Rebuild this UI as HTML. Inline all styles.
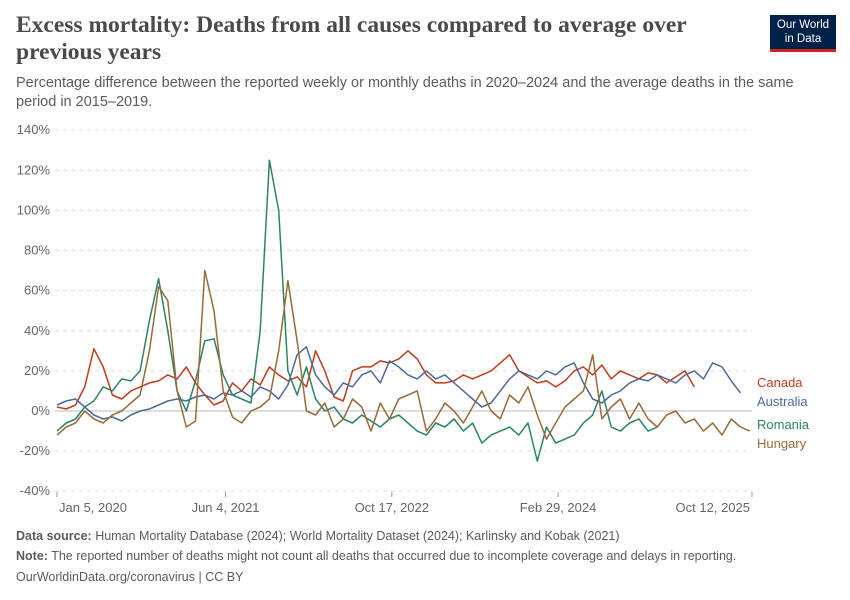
<!DOCTYPE html>
<html><head><meta charset="utf-8"><style>
body{margin:0;width:850px;height:600px;background:#fff;font-family:"Liberation Sans",sans-serif;overflow:hidden;position:relative}
.t{position:absolute;left:16px;top:12px;font-family:"Liberation Serif",serif;font-weight:bold;font-size:23.5px;line-height:27px;color:#4a4a4a;width:700px}
.s{position:absolute;left:16px;top:74px;font-size:14.5px;line-height:19px;color:#5b5b5b;width:800px}
.logo{position:absolute;left:770px;top:15px;width:66px;height:37px;background:#002147;color:#fff;font-size:11.5px;line-height:14px;text-align:center;padding-top:3px;box-sizing:border-box;border-bottom:3px solid #ce261e}
.f{position:absolute;left:16px;font-size:12.5px;color:#5b5b5b}
</style></head><body>
<div class="t">Excess mortality: Deaths from all causes compared to average over previous years</div>
<div class="s">Percentage difference between the reported weekly or monthly deaths in 2020–2024 and the average deaths in the same period in 2015–2019.</div>
<div class="logo">Our World<br>in Data</div>
<svg id="c" width="850" height="600" style="position:absolute;left:0;top:0"></svg>
<div class="f" style="top:529px"><b>Data source:</b> Human Mortality Database (2024); World Mortality Dataset (2024); Karlinsky and Kobak (2021)</div>
<div class="f" style="top:549px"><b>Note:</b> The reported number of deaths might not count all deaths that occurred due to incomplete coverage and delays in reporting.</div>
<div class="f" style="top:570px">OurWorldinData.org/coronavirus | CC BY</div>
<script>
const yTicks=[140,120,100,80,60,40,20,0,-20,-40];
const xTickWeeks=[0,73,145,217,301];
const xTickLabels=["Jan 5, 2020","Jun 4, 2021","Oct 17, 2022","Feb 29, 2024","Oct 12, 2025"];
const canada=[2,1,3,12,31,22,8,6,10,12,14,15,18,16,22,14,8,3,5,14,10,16,13,22,18,15,17,12,30,20,7,5,20,22,22,25,24,26,30,26,18,14,14,15,18,16,18,20,24,28,20,17,14,15,12,15,20,22,18,23,16,20,18,16,19,18,14,17,20,12];
const australia=[3,5,6,2,-2,-4,-3,-5,-2,0,1,3,5,6,5,7,8,6,9,8,10,7,12,10,6,13,28,32,18,12,8,14,12,18,20,14,25,22,18,16,20,16,18,14,10,6,2,4,10,16,20,18,16,20,18,22,24,14,6,4,8,10,14,16,15,18,16,14,18,20,16,24,22,15,9];
const romania=[-10,-6,-4,2,5,12,10,16,15,20,45,66,40,10,0,15,35,36,18,8,6,4,40,125,100,20,8,22,6,0,2,-4,-6,-2,-5,-8,-4,-2,-6,-10,-12,-6,-8,-4,-10,-6,-16,-12,-10,-8,-12,-6,-25,-8,-16,-14,-12,-6,-2,10,-8,-10,-6,-4,-10,-8];
const hungary=[-12,-8,-6,0,-4,-6,-2,0,4,8,30,62,55,10,-8,-5,70,50,10,-3,-6,0,2,6,30,65,35,0,-2,4,-8,-4,6,2,-10,4,-4,6,8,10,-10,-4,4,0,-6,2,10,0,-4,8,4,12,-2,-14,-6,2,6,10,28,-4,2,6,-4,4,-4,-8,-2,0,-6,-4,-10,-6,-12,-4,-8,-10];
const names=["Canada","Australia","Romania","Hungary"];
const colors=["#c13c1a","#4c6a9c","#2c8465","#9a6b3a"];
const labelY=[383,402,425,444];
const weekStep=4;
const svg=document.getElementById('c');const NS='http://www.w3.org/2000/svg';
const x=w=>57+w*(695/301);
const y=v=>411-v*(361/180);
function mk(t,a){const e=document.createElementNS(NS,t);for(const k in a)e.setAttribute(k,a[k]);svg.appendChild(e);return e;}
yTicks.forEach(v=>{
 const l=mk('line',{x1:55,x2:752,y1:y(v),y2:y(v),stroke:v===0?'#bbb':'#ddd','stroke-dasharray':v===0?'':'4,4','stroke-width':1});
 
 
 const t=mk('text',{x:50,y:y(v)+4,'text-anchor':'end','font-size':13,fill:'#666'});t.textContent=v+'%';
 
 
});
xTickWeeks.forEach((w,i)=>{
 const l=mk('line',{x1:x(w),x2:x(w),y1:492,y2:497,stroke:'#999'});
 
 
 const t=mk('text',{x:x(w)+(i===0?2:(i===4?-2:0)),y:512,'text-anchor':i===0?'start':(i===4?'end':'middle'),'font-size':13,fill:'#666'});t.textContent=xTickLabels[i];
 
 
});
[canada,australia,romania,hungary].forEach((s,k)=>{
 const p=mk('polyline',{points:s.map((v,i)=>x(i*weekStep).toFixed(1)+','+y(v).toFixed(1)).join(' '),fill:'none',stroke:colors[k],'stroke-width':1.5,'stroke-linejoin':'round'});
 
 
 const t=mk('text',{x:757,y:labelY[k]+4,'font-size':13,fill:colors[k]});t.textContent=names[k];
 
 
});
</script>
</body></html>
